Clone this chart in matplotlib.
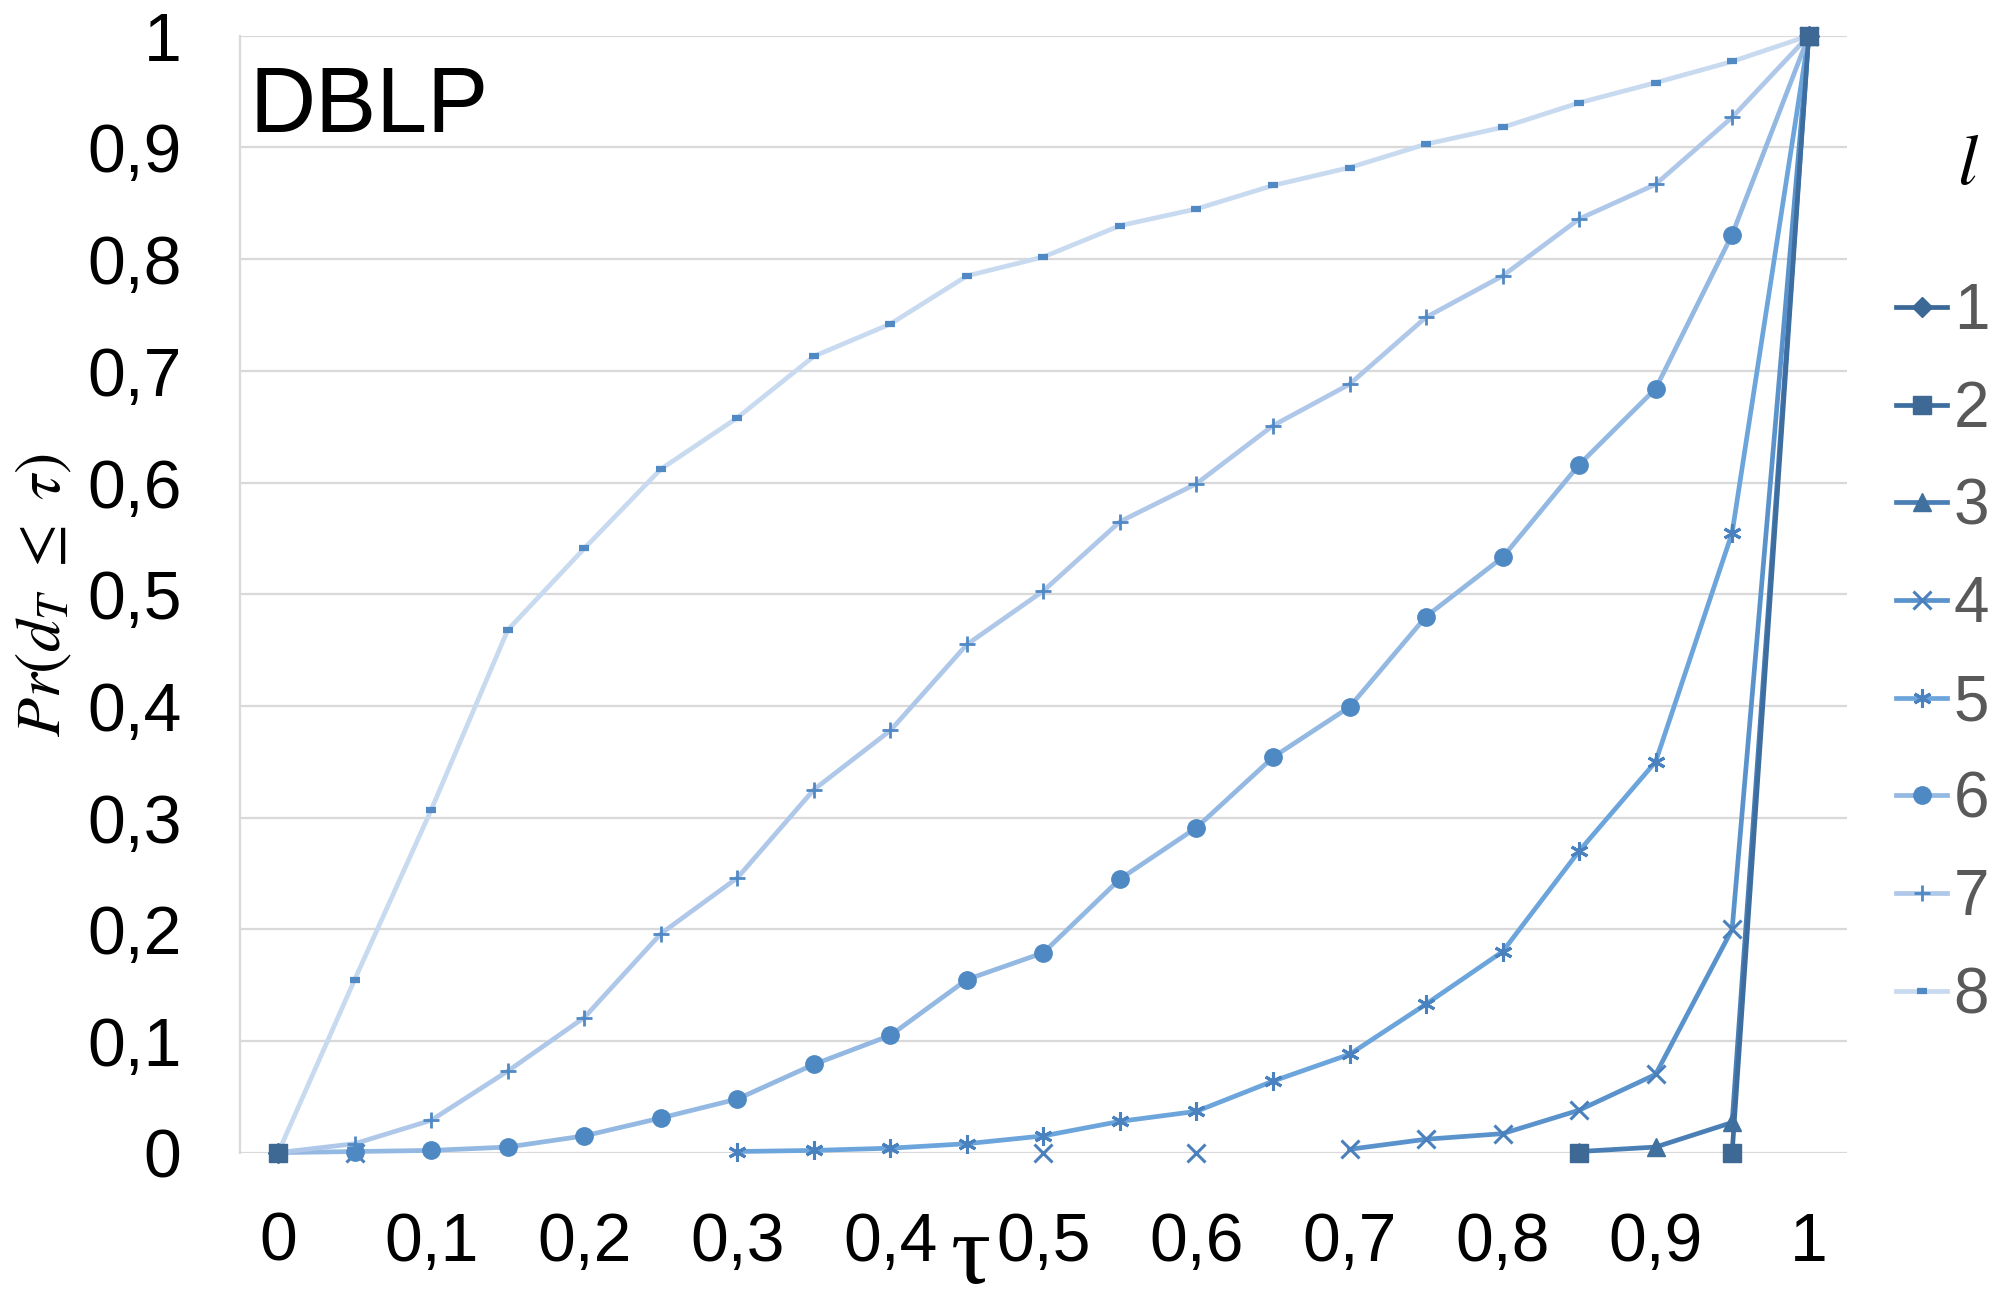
import numpy as np
import matplotlib
matplotlib.use('Agg')
import matplotlib.pyplot as plt

plt.rcParams['font.family'] = ['Liberation Sans', 'DejaVu Sans']
plt.rcParams['mathtext.fontset'] = 'stix'

nan = np.nan

# tau values (categories of the x axis)
tau = [0, 0.05, 0.1, 0.15, 0.2, 0.25, 0.3, 0.35, 0.4, 0.45, 0.5,
       0.55, 0.6, 0.65, 0.7, 0.75, 0.8, 0.85, 0.9, 0.95, 1]

# Pr(d_T <= tau) for each l (nan = no point)
l1 = [0, nan, nan, nan, nan, nan, nan, nan, nan, nan, nan,
      nan, nan, nan, nan, nan, nan, nan, nan, nan, 1]
l2 = [0, nan, nan, nan, nan, nan, nan, nan, nan, nan, nan,
      nan, nan, nan, nan, nan, nan, 0, nan, 0, 1]
l3 = [nan, nan, nan, nan, nan, nan, nan, nan, nan, nan, nan,
      nan, nan, nan, nan, nan, nan, 0.001, 0.005, 0.027, 1]
l4 = [nan, 0, nan, nan, nan, nan, nan, nan, nan, nan, 0,
      nan, 0, nan, 0.003, 0.012, 0.017, 0.038, 0.07, 0.2, 1]
l5 = [nan, nan, nan, nan, nan, nan, 0.001, 0.002, 0.004, 0.008, 0.015,
      0.028, 0.037, 0.064, 0.088, 0.133, 0.18, 0.27, 0.35, 0.555, 1]
l6 = [0, 0.001, 0.002, 0.005, 0.015, 0.031, 0.048, 0.079, 0.105, 0.155, 0.179,
      0.245, 0.291, 0.354, 0.399, 0.48, 0.533, 0.616, 0.684, 0.822, 1]
l7 = [0, 0.008, 0.029, 0.073, 0.121, 0.196, 0.246, 0.325, 0.378, 0.455, 0.503,
      0.565, 0.599, 0.651, 0.688, 0.748, 0.785, 0.836, 0.867, 0.927, 1]
l8 = [0, 0.155, 0.307, 0.468, 0.541, 0.612, 0.658, 0.713, 0.742, 0.785, 0.802,
      0.83, 0.845, 0.866, 0.882, 0.903, 0.918, 0.94, 0.958, 0.977, 1]

series = [l1, l2, l3, l4, l5, l6, l7, l8]
labels = ['1', '2', '3', '4', '5', '6', '7', '8']

line_colors = ['#3B6896', '#3E6E9F', '#4A7FB6', '#5A93CC', '#6CA5DB',
               '#93B8E2', '#AFC8E9', '#C8DAEF']
mark_colors = ['#3C6896', '#3D6994', '#40709E', '#4A80BC', '#4A82C0',
               '#4F89C3', '#5189C4', '#5189C4']
markers = ['D', 's', '^', 'x', (6, 2, 0), 'o', '+', '_']
msizes = [10, 12.5, 13.5, 13, 13, 12.5, 12, 7]
mews = [1, 1, 1, 2.2, 2.2, 1, 2.0, 4.5]
zs = [3, 12, 4, 5, 6, 7, 8, 9]

fig = plt.figure(figsize=(20.06, 13.07), dpi=100)
ax = fig.add_axes([0.1196, 0.1181, 0.8011, 0.8545])

for i, ys in enumerate(series):
    ax.plot(tau, ys, color=line_colors[i], lw=3.4, marker=markers[i],
            ms=msizes[i], mfc=mark_colors[i], mec=mark_colors[i], mew=mews[i],
            label=labels[i], clip_on=False, zorder=zs[i])

ax.set_xlim(-0.025, 1.025)
ax.set_ylim(0, 1)
ticks = [round(0.1 * k, 1) for k in range(11)]
tick_txt = ['0'] + ['0,%d' % k for k in range(1, 10)] + ['1']
ax.set_xticks(ticks)
ax.set_xticklabels(tick_txt)
ax.set_yticks(ticks)
ax.set_yticklabels(tick_txt)
ax.tick_params(length=0, labelsize=49, colors='black')
ax.tick_params(axis='x', pad=42)
ax.tick_params(axis='y', pad=42)
ax.grid(axis='y', color='#D9D9D9', lw=1.6)
ax.set_axisbelow(True)
for s in ['top', 'right', 'bottom']:
    ax.spines[s].set_visible(False)
ax.spines['left'].set_color('#D9D9D9')
ax.spines['left'].set_linewidth(1.6)

ax.text(0.006, 0.935, 'DBLP', fontsize=66, va='center', ha='left',
        transform=ax.transAxes)

fig.text(0.022, 0.545, r'$Pr(d_T\ \leq\ \tau)$', rotation=90, fontsize=46,
         ha='center', va='center')
fig.text(0.484, 0.002, 'τ', fontsize=72, ha='center', va='bottom',
         family=['Liberation Serif', 'DejaVu Serif'])

fig.text(0.981, 0.873, r'$l$', fontsize=52, ha='center', va='center')
fig.legend(loc='upper left', bbox_to_anchor=(0.9325, 0.8036), frameon=False,
           fontsize=46, handlelength=0.8, handletextpad=0.1,
           labelspacing=0.59, labelcolor='#595959', borderaxespad=0)

fig.savefig('out.png', dpi=100)
